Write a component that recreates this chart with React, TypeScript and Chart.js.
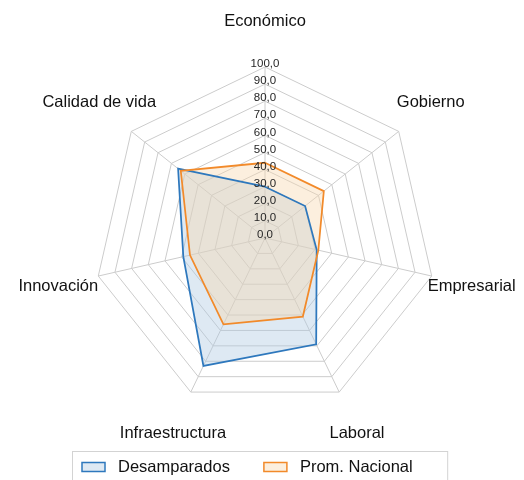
import React, { useEffect, useRef } from 'react';
import { Chart, registerables } from 'chart.js';

Chart.register(...registerables);

const categories = ['Económico', 'Gobierno', 'Empresarial', 'Laboral', 'Infraestructura', 'Innovación', 'Calidad de vida'];
const seriesNames = ['Desamparados', 'Prom. Nacional'];
const desamparados = [30, 30, 31, 69, 83, 49, 65];
const promNacional = [44, 44, 32, 51, 56, 45, 63];
const tickValues = [0, 10, 20, 30, 40, 50, 60, 70, 80, 90, 100];

const FONT = '"Liberation Sans", Arial, Helvetica, sans-serif';
const BLUE = '#2E78BD';
const ORANGE = '#F28A2A';
const BLUE_FILL = 'rgba(172,200,225,0.4)';
const ORANGE_FILL = 'rgba(248,214,172,0.4)';

const fmt = (v: number) => v.toFixed(1).replace('.', ',');

const overlayPlugin = {
  id: 'overlay',
  afterDatasetsDraw(chart: any) {
    const ctx = chart.ctx as CanvasRenderingContext2D;
    const r = chart.scales.r;
    ctx.save();
    // tick labels
    ctx.font = `11.5px ${FONT}`;
    ctx.fillStyle = '#262626';
    ctx.textAlign = 'center';
    ctx.textBaseline = 'middle';
    tickValues.forEach((v) => {
      const d = r.getDistanceFromCenterForValue(v);
      ctx.fillText(fmt(v), r.xCenter, r.yCenter - d - 3);
    });
    // point labels
    ctx.font = `16.5px ${FONT}`;
    ctx.fillStyle = '#111111';
    const labels: string[] = chart.data.labels;
    labels.forEach((c, i) => {
      const dist = r.drawingArea + 38;
      const p = r.getPointPosition(i, dist);
      const dirX = (p.x - r.xCenter) / dist;
      const dirY = (p.y - r.yCenter) / dist;
      ctx.fillText(c, p.x + 3 * dirX, p.y + 8 * dirY);
    });
    // legend
    const ds = chart.data.datasets;
    const left = 72.5;
    const top = 451.5;
    let x = 82;
    const cy = 467;
    ctx.textAlign = 'left';
    ds.forEach((d: any, i: number) => {
      ctx.fillStyle = '#ffffff';
      ctx.fillRect(x, cy - 4.5, 23, 9);
      ctx.fillStyle = d.backgroundColor;
      ctx.fillRect(x, cy - 4.5, 23, 9);
      ctx.strokeStyle = d.borderColor;
      ctx.lineWidth = 1.5;
      ctx.strokeRect(x, cy - 4.5, 23, 9);
      x += 23 + 13;
      ctx.fillStyle = '#111111';
      ctx.fillText(d.label, x, cy);
      x += ctx.measureText(d.label).width;
      if (i < ds.length - 1) x += 34;
    });
    const right = x + 35;
    ctx.strokeStyle = '#d3d3d3';
    ctx.lineWidth = 1;
    ctx.strokeRect(left, top, right - left, 60);
    ctx.restore();
  },
};

export default function App() {
  const ref = useRef<HTMLCanvasElement>(null);
  useEffect(() => {
    if (!ref.current) return;
    const chart = new Chart(ref.current, {
      type: 'radar',
      data: {
        labels: categories,
        datasets: [
          {
            label: seriesNames[0],
            data: desamparados,
            borderColor: BLUE,
            backgroundColor: BLUE_FILL,
            borderWidth: 1.75,
            fill: true,
            pointRadius: 0,
            order: 1,
          },
          {
            label: seriesNames[1],
            data: promNacional,
            borderColor: ORANGE,
            backgroundColor: ORANGE_FILL,
            borderWidth: 1.75,
            fill: true,
            pointRadius: 0,
            order: 0,
          },
        ],
      },
      options: {
        responsive: false,
        animation: false,
        devicePixelRatio: 1,
        layout: { padding: { left: 94, top: 67, right: 88, bottom: 71 } },
        elements: { line: { tension: 0 } },
        plugins: {
          legend: { display: false },
          tooltip: { enabled: false },
          filler: { drawTime: 'beforeDatasetsDraw' },
        },
        scales: {
          r: {
            min: 0,
            max: 100,
            ticks: { stepSize: 10, display: false },
            pointLabels: { display: false },
            grid: { color: '#cccccc', lineWidth: 1, circular: false },
            angleLines: { color: '#cccccc', lineWidth: 1 },
          },
        },
      },
      plugins: [overlayPlugin],
    });
    return () => chart.destroy();
  }, []);
  return (
    <div style={{ position: 'absolute', left: 0, top: 0, width: 524, height: 480, background: '#ffffff' }}>
      <canvas ref={ref} width={524} height={480} />
    </div>
  );
}
